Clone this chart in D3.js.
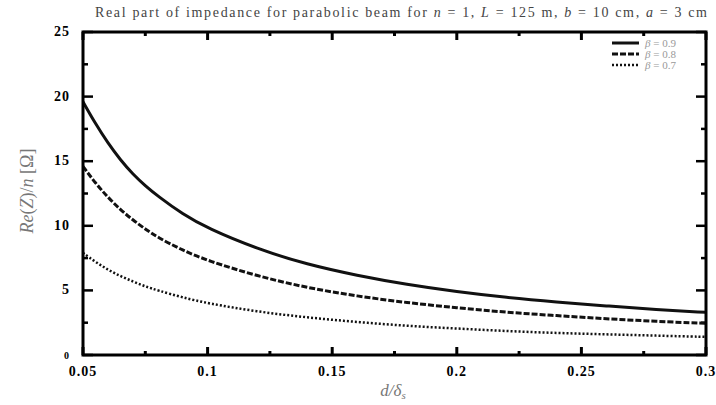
<!DOCTYPE html>
<html lang="en">
<head>
<meta charset="utf-8">
<title>Re(Z)/n parabolic beam</title>
<script src="https://d3js.org/d3.v7.min.js"></script>
<style>
  body { margin: 0; background: #fff; }
  text { font-family: "Liberation Serif", "DejaVu Serif", serif; }
</style>
</head>
<body>
<div id="chart"></div>
<script>
// values
var xVals = [0.05, 0.055, 0.06, 0.065, 0.07, 0.075, 0.08, 0.09, 0.10, 0.12, 0.14, 0.16, 0.18, 0.20, 0.22, 0.24, 0.26, 0.28, 0.30];
var beta09 = [19.6, 17.9, 16.4, 15.1, 14.0, 13.1, 12.3, 10.9, 9.8, 8.2, 7.0, 6.15, 5.45, 4.9, 4.45, 4.1, 3.8, 3.5, 3.3];
var beta08 = [14.6, 13.3, 12.2, 11.25, 10.45, 9.75, 9.1, 8.1, 7.3, 6.1, 5.2, 4.55, 4.05, 3.65, 3.3, 3.05, 2.8, 2.6, 2.45];
var beta07 = [7.9, 7.2, 6.6, 6.1, 5.7, 5.3, 5.0, 4.45, 4.0, 3.35, 2.9, 2.55, 2.25, 2.05, 1.85, 1.7, 1.6, 1.5, 1.4];
var seriesNames = ["β = 0.9", "β = 0.8", "β = 0.7"];
var xTicks = [0.05, 0.1, 0.15, 0.2, 0.25, 0.3];
var xTickLabels = ["0.05", "0.1", "0.15", "0.2", "0.25", "0.3"];
var yTicks = [0, 5, 10, 15, 20, 25];

var W = 716, H = 405;
var pL = 83, pR = 706, pT = 32, pB = 355;

var svg = d3.select("#chart").append("svg")
    .attr("width", W).attr("height", H);

var x = d3.scaleLinear().domain([0.05, 0.3]).range([pL, pR]);
var y = d3.scaleLinear().domain([0, 25]).range([pB, pT]);

// title
var title = svg.append("text")
    .attr("x", 401).attr("y", 17)
    .attr("text-anchor", "middle")
    .attr("textLength", 612).attr("lengthAdjust", "spacing")
    .style("font-size", "14px")
    .style("fill", "#444");
title.append("tspan").text("Real part of impedance for parabolic beam for ");
title.append("tspan").style("font-style", "italic").text("n");
title.append("tspan").text(" = 1, ");
title.append("tspan").style("font-style", "italic").text("L");
title.append("tspan").text(" = 125 m, ");
title.append("tspan").style("font-style", "italic").text("b");
title.append("tspan").text(" = 10 cm, ");
title.append("tspan").style("font-style", "italic").text("a");
title.append("tspan").text(" = 3 cm");

// ticks (inward, all four sides)
var g = svg.append("g");
var minorX = d3.range(0.075, 0.3, 0.05);
xTicks.concat(minorX).forEach(function(t, i) {
    var len = i < xTicks.length ? 8 : 4;
    g.append("line").attr("x1", x(t)).attr("x2", x(t)).attr("y1", pB).attr("y2", pB - len)
        .attr("stroke", "#000").attr("stroke-width", 3);
    g.append("line").attr("x1", x(t)).attr("x2", x(t)).attr("y1", pT).attr("y2", pT + len)
        .attr("stroke", "#000").attr("stroke-width", 3);
});
var minorY = d3.range(2.5, 25, 5);
yTicks.concat(minorY).forEach(function(t, i) {
    var len = i < yTicks.length ? 10 : 5;
    g.append("line").attr("x1", pL).attr("x2", pL + len).attr("y1", y(t)).attr("y2", y(t))
        .attr("stroke", "#000").attr("stroke-width", 2.5);
    g.append("line").attr("x1", pR).attr("x2", pR - len).attr("y1", y(t)).attr("y2", y(t))
        .attr("stroke", "#000").attr("stroke-width", 2.5);
});

// tick labels
svg.append("g").selectAll("text").data(xTicks).enter().append("text")
    .attr("x", function(d) { return x(d); })
    .attr("y", 376)
    .attr("text-anchor", "middle")
    .style("font-size", "14px").style("font-weight", "bold").style("letter-spacing", "1px")
    .text(function(d, i) { return xTickLabels[i]; });

svg.append("g").selectAll("text").data(yTicks).enter().append("text")
    .attr("x", 70)
    .attr("y", function(d) { return y(d) + 4; })
    .attr("text-anchor", "end")
    .style("font-size", function(d) { return d == 0 ? "10px" : "14px"; })
    .style("font-weight", "bold").style("letter-spacing", "1px")
    .text(function(d) { return d; });

// axis labels
var xl = svg.append("text")
    .attr("x", 393).attr("y", 396)
    .attr("text-anchor", "middle")
    .style("font-size", "17px").style("fill", "#777").style("font-style", "italic");
xl.append("tspan").text("d/δ");
xl.append("tspan").attr("dy", 3).style("font-size", "11px").text("s");

var yl = svg.append("text")
    .attr("transform", "translate(33," + 191 + ") rotate(-90)")
    .attr("text-anchor", "middle")
    .style("font-size", "18px").style("fill", "#777");
yl.append("tspan").style("font-style", "italic").text("Re");
yl.append("tspan").text("(");
yl.append("tspan").style("font-style", "italic").text("Z");
yl.append("tspan").text(")/");
yl.append("tspan").style("font-style", "italic").text("n");
yl.append("tspan").text(" [Ω]");

// curves
svg.append("clipPath").attr("id", "clip").append("rect")
    .attr("x", pL).attr("y", pT).attr("width", pR - pL).attr("height", pB - pT);

var line = d3.line()
    .x(function(d) { return x(d[0]); })
    .y(function(d) { return y(d[1]); })
    .curve(d3.curveBasis);

var styles = [
    { w: 3, dash: null },
    { w: 3, dash: "6,2" },
    { w: 2.5, dash: "2,2" }
];
[beta09, beta08, beta07].forEach(function(vals, i) {
    var pts = xVals.map(function(xv, j) { return [xv, vals[j]]; });
    svg.append("path")
        .attr("clip-path", "url(#clip)")
        .attr("d", line(pts))
        .attr("fill", "none")
        .attr("stroke", "#111")
        .attr("stroke-width", styles[i].w)
        .attr("stroke-dasharray", styles[i].dash);
});

// frame
svg.append("rect")
    .attr("x", pL).attr("y", pT).attr("width", pR - pL).attr("height", pB - pT)
    .attr("fill", "none").attr("stroke", "#000").attr("stroke-width", 3);

// legend
var lg = svg.append("g");
seriesNames.forEach(function(name, i) {
    var ly = 43 + i * 11;
    lg.append("line").attr("x1", 612).attr("x2", 639).attr("y1", ly).attr("y2", ly)
        .attr("stroke", "#111").attr("stroke-width", styles[i].w)
        .attr("stroke-dasharray", styles[i].dash);
    var t = lg.append("text").attr("x", 645).attr("y", ly + 3.5)
        .style("font-size", "11px").style("fill", "#999");
    t.append("tspan").style("font-style", "italic").text("β");
    t.append("tspan").text(name.slice(1));
});
</script>
</body>
</html>
